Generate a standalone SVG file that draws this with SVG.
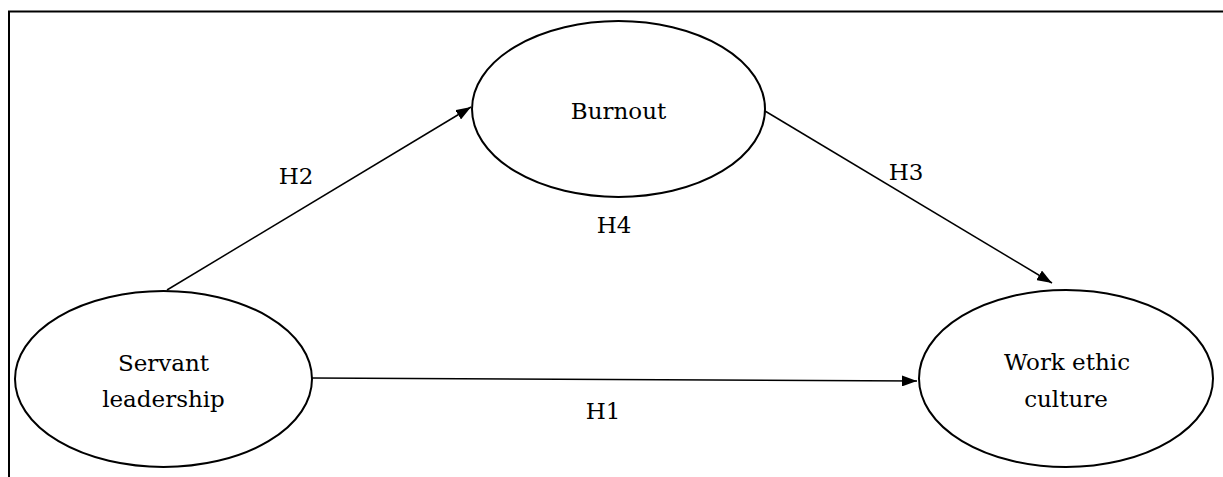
<svg xmlns="http://www.w3.org/2000/svg" width="1223" height="477" viewBox="0 0 1223 477">
<style>
.node{fill:#fff;stroke:#000;stroke-width:2}
.lbl{font-family:"DejaVu Serif","Liberation Serif",serif;font-size:23px;fill:#000;text-anchor:middle}
.edge{stroke:#000;stroke-width:1.5;fill:none}
.frame{stroke:#000;stroke-width:2;fill:none}
</style>
<defs>
<marker id="arr" markerUnits="userSpaceOnUse" markerWidth="15" markerHeight="11" refX="15" refY="5.5" orient="auto">
<path d="M0,0 L15,5.5 L0,11 z" fill="#000"/>
</marker>
</defs>
<path class="frame" d="M9,477 V11.5 H1223"/>
<g id="connectors">
<line class="edge" x1="167" y1="290" x2="471" y2="107" marker-end="url(#arr)"/>
<line class="edge" x1="765" y1="111" x2="1052" y2="283" marker-end="url(#arr)"/>
<line class="edge" x1="312" y1="378" x2="917" y2="381" marker-end="url(#arr)"/>
<text class="lbl" x="296" y="184">H2</text>
<text class="lbl" x="614" y="233">H4</text>
<text class="lbl" x="906" y="180">H3</text>
<text class="lbl" x="603" y="419">H1</text>
</g>
<g id="burnout">
<ellipse class="node" cx="618.5" cy="109" rx="146.5" ry="88"/>
<text class="lbl" x="618.5" y="119">Burnout</text>
</g>
<g id="servant-leadership">
<ellipse class="node" cx="163.5" cy="379" rx="148.5" ry="88"/>
<text class="lbl" x="163.5" y="371">Servant</text>
<text class="lbl" x="163.5" y="407">leadership</text>
</g>
<g id="work-ethic-culture">
<ellipse class="node" cx="1066" cy="378.5" rx="147" ry="88.5"/>
<text class="lbl" x="1067" y="370">Work ethic</text>
<text class="lbl" x="1066" y="407">culture</text>
</g>
</svg>
